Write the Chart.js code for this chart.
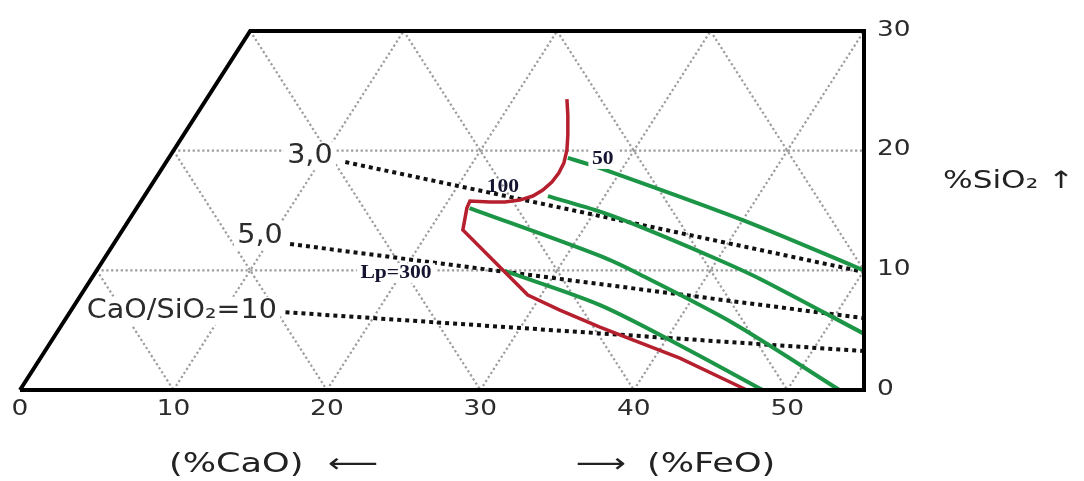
<!DOCTYPE html>
<html>
<head>
<meta charset="utf-8">
<script src="https://cdn.jsdelivr.net/npm/chart.js@4/dist/chart.umd.min.js"></script>
<style>
  html, body { margin: 0; padding: 0; background: #fff; }
  #wrap { width: 1084px; height: 481px; }
</style>
</head>
<body>
<div id="wrap"><canvas id="slagChart" width="1084" height="481"></canvas></div>
<script>
// axis ticks
const xTicks = [0, 10, 20, 30, 40, 50];
const yTicks = [0, 10, 20, 30];

// outer frame of the diagram
const frameX = [0, 55, 55, 15, 0];
const frameY = [0, 0, 30, 30, 0];

// triangular grid, [x1, y1, x2, y2]
const gridSegs = [
  [5, 10, 55, 10], [10, 20, 55, 20],
  [10, 0, 25, 30], [20, 0, 35, 30], [30, 0, 45, 30], [40, 0, 55, 30], [50, 0, 55, 10],
  [5, 10, 10, 0], [10, 20, 20, 0], [15, 30, 30, 0], [25, 30, 40, 0], [35, 30, 50, 0], [45, 30, 55, 10]
];

// CaO/SiO2 lines
const ratio3X = [21.2, 55], ratio3Y = [19.05, 9.86];
const ratio5X = [17.6, 55], ratio5Y = [12.2, 6.0];
const ratio10X = [17.3, 55], ratio10Y = [6.5, 3.25];

// red boundary
const redX = [35.64, 35.7, 35.7, 35.64, 35.44, 35.11, 34.66, 34.07, 33.42, 32.57, 31.6, 30.62, 29.32, 29.12, 28.86, 31.27, 33.09, 35.18, 37.79, 43.0, 47.36];
const redY = [24.31, 22.97, 21.3, 20.05, 18.96, 18.13, 17.38, 16.71, 16.21, 15.87, 15.71, 15.71, 15.79, 15.2, 13.37, 10.28, 7.94, 6.68, 5.26, 2.67, 0];

// green Lp curves
const lp50X = [35.7, 37.8, 47.1, 55], lp50Y = [19.4, 18.55, 14.2, 10.0];
const lp100X = [34.4, 37.8, 40.4, 45.4, 48.2, 55], lp100Y = [16.2, 14.9, 13.65, 10.95, 9.3, 4.7];
const lp200X = [29.3, 37.8, 40.4, 46.45, 53.4], lp200Y = [15.2, 11.2, 9.65, 5.6, 0];
const lp300X = [31.6, 37.8, 43.2, 48.4], lp300Y = [9.95, 7.1, 3.6, 0];

function pts(xs, ys) {
  return xs.map((x, i) => ({ x: x, y: ys[i] }));
}

function line(xs, ys, color, width, extra) {
  return Object.assign({
    data: pts(xs, ys),
    showLine: true,
    borderColor: color,
    borderWidth: width,
    pointRadius: 0,
    fill: false,
    clip: false,
    tension: 0
  }, extra || {});
}

const datasets = [];
datasets.push(line(frameX, frameY, "#000", 4, { borderJoinStyle: "miter" }));
datasets.push(line(redX, redY, "#b51f2e", 3.5));
[[lp50X, lp50Y], [lp100X, lp100Y], [lp200X, lp200Y], [lp300X, lp300Y]].forEach(c => {
  datasets.push(line(c[0], c[1], "#1c9646", 4, { tension: 0.3 }));
});
[[ratio3X, ratio3Y], [ratio5X, ratio5Y], [ratio10X, ratio10Y]].forEach(r => {
  datasets.push(line(r[0], r[1], "#111", 4, { borderDash: [4, 4], borderCapStyle: "butt" }));
});
gridSegs.forEach(s => {
  datasets.push(line([s[0], s[2]], [s[1], s[3]], "#9c9c9c", 2.2, { borderDash: [2.2, 2.6] }));
});

// text helper, the source picture is stretched sideways
function txt(ctx, s, x, y, font, color, align, sx, bg) {
  ctx.save();
  ctx.font = font;
  ctx.textBaseline = "middle";
  ctx.textAlign = align || "center";
  ctx.translate(x, y);
  ctx.scale(sx || 1, 1);
  if (bg) {
    let w = ctx.measureText(s).width;
    let h = parseInt(font.match(/(\d+)px/)[1]);
    let x0 = align === "left" ? 0 : -w / 2;
    ctx.fillStyle = "#fff";
    ctx.fillRect(x0 - 3, -h * 0.55, w + 6, h * 1.1);
  }
  ctx.fillStyle = color;
  ctx.fillText(s, 0, 0);
  ctx.restore();
}

// labels placed in data units
const ratioLabels = [["3,0", 18.89, 19.55], ["5,0", 15.64, 12.87], ["CaO/SiO\u2082=10", 10.55, 6.6]];
const lpLabels = [["50", 37.98, 19.3], ["100", 31.47, 16.96], ["Lp=300", 24.5, 9.77]];

const textPlugin = {
  id: "textPlugin",
  afterDatasetsDraw(chart) {
    const ctx = chart.ctx;
    const xs = chart.scales.x, ys = chart.scales.y;
    const sans = "DejaVu Sans";

    xTicks.forEach(v => txt(ctx, String(v), xs.getPixelForValue(v), 409, "22px " + sans, "#2b2b2b", "center", 1.2));
    yTicks.forEach(v => txt(ctx, String(v), 877, ys.getPixelForValue(v) - 1, "22px " + sans, "#2b2b2b", "left", 1.2));

    ratioLabels.forEach(l => txt(ctx, l[0], xs.getPixelForValue(l[1]), ys.getPixelForValue(l[2]), "26px " + sans, "#2b2b2b", "center", 1.1, true));
    lpLabels.forEach((l, i) => txt(ctx, l[0], xs.getPixelForValue(l[1]), ys.getPixelForValue(l[2]), "bold 18px 'Liberation Serif'", "#141430", "center", 1.2, i !== 1));

    txt(ctx, "%SiO\u2082 \u2191", 943, 182, "24px " + sans, "#222", "left", 1.3);
    txt(ctx, "(%CaO)", 169, 465, "27px " + sans, "#222", "left", 1.3);
    txt(ctx, "\u27f5", 328, 465, "27px " + sans, "#222", "left", 1.3);
    txt(ctx, "\u27f6", 576, 465, "27px " + sans, "#222", "left", 1.3);
    txt(ctx, "(%FeO)", 647, 465, "27px " + sans, "#222", "left", 1.3);
  }
};

new Chart(document.getElementById("slagChart"), {
  type: "scatter",
  data: { datasets: datasets },
  options: {
    responsive: false,
    animation: false,
    layout: { padding: { left: 20, right: 220, top: 31, bottom: 91 } },
    plugins: { legend: { display: false }, tooltip: { enabled: false } },
    scales: {
      x: { type: "linear", min: 0, max: 55, display: false },
      y: { type: "linear", min: 0, max: 30, display: false, position: "right" }
    }
  },
  plugins: [textPlugin]
});
</script>
</body>
</html>
